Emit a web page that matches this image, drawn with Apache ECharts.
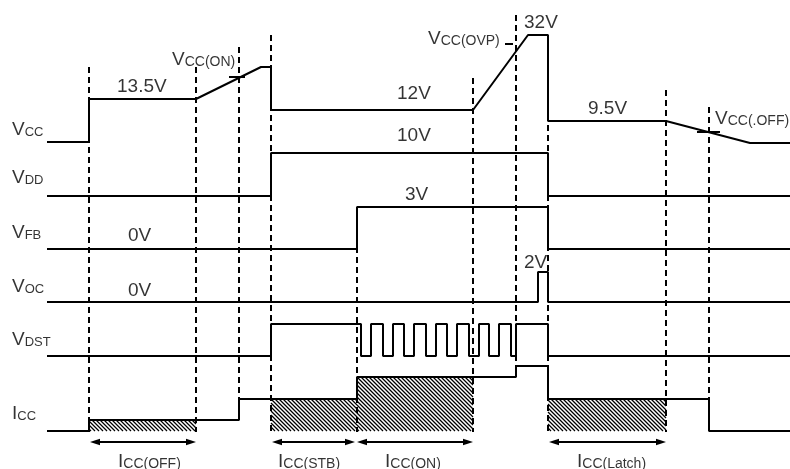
<!DOCTYPE html>
<html><head><meta charset="utf-8">
<script src="https://cdn.jsdelivr.net/npm/echarts@6/dist/echarts.min.js"></script>
<style>html,body{margin:0;padding:0;background:#fff}#c{width:790px;height:469px}</style>
</head><body><div id="c"></div>
<script>
// ---- data (time units on x, level units on y; y grows downward) ----
const vccWave = [[47,142],[89,142],[89,99],[196,99],[261,67],[271,67],[271,110],[473,110],[528,35],[548,35],[548,121],[666,121],[750,143],[790,143]];
const vddWave = [[47,196],[271,196],[271,153],[548,153],[548,196],[790,196]];
const vfbWave = [[47,249],[357,249],[357,207],[548,207],[548,249],[790,249]];
const vocWave = [[47,302],[538,302],[538,272],[548,272],[548,302],[790,302]];
const vdstRise = [271,371,393,414,436,457,479,499,516];
const vdstFall = [361,383,404,426,447,469,489,511,548];
const vdstLow = 356, vdstHigh = 324, vdstStart = 47, vdstEnd = 790;
const iccWave = [[47,431],[89,431],[89,420],[239,420],[239,399],[357,399],[357,377],[516,377],[516,366],[548,366],[548,399],[709,399],[709,431],[790,431]];

const markerT      = [89, 196, 239, 271, 357, 473, 516, 548, 666, 709];
const markerTop    = [67, 67,  47,  35,  207, 78,  15,  35,  90,  107];
const markerBottom = [432,432, 420, 432, 432, 432, 366, 432, 432, 431];

const thresholdTicks = [[229,245,77],[505,513,44],[697,720,132]];
const hatchRegions = [[89,196,420,431],[271,357,399,431],[357,473,377,431],[548,666,399,431]];
const currentSpans = [[90,196],[272,355],[357,473],[549,666]];
const spanLevel = 442;

const signalNames = [['V','CC'],['V','DD'],['V','FB'],['V','OC'],['V','DST'],['I','CC']];
const signalNameY = [129,177,232,286,339,413];
const signalNameX = 12;
const valueLabels = [['13.5V',117,86],['12V',397,93],['10V',397,135],['3V',405,194],['0V',128,235],['0V',128,290],['2V',524,262],['32V',524,22],['9.5V',588,108]];
const thresholdLabels = [[['V','CC(ON)'],172,59],[['V','CC(OVP)'],428,38],[['V','CC(.OFF)'],715,118]];
const currentLabels = [[['I','CC(OFF)'],118,461],[['I','CC(STB)'],278,461],[['I','CC(ON)'],385,461],[['I','CC(Latch)'],577,461]];

// ---- build ----
const vdstWave = [[vdstStart, vdstLow]];
vdstRise.forEach((r, i) => {
  vdstWave.push([r, vdstLow], [r, vdstHigh], [vdstFall[i], vdstHigh], [vdstFall[i], vdstLow]);
});
vdstWave.push([vdstEnd, vdstLow]);

const FONT = "'Liberation Sans', Arial, Helvetica, sans-serif";
function wave(name, data) {
  return {type:'line', name, data, symbol:'none', showSymbol:false, clip:false, silent:true,
    lineStyle:{color:'#000', width:2}, z:5, animation:false};
}
const labelItems = [];
signalNames.forEach((n, i) => labelItems.push({value:[signalNameX, signalNameY[i]], txt:'{m|' + n[0] + '}{t|' + n[1] + '}'}));
valueLabels.forEach(v => labelItems.push({value:[v[1], v[2]], txt:'{m|' + v[0] + '}'}));
thresholdLabels.concat(currentLabels).forEach(v => labelItems.push({value:[v[1], v[2]], txt:'{m|' + v[0][0] + '}{s|' + v[0][1] + '}'}));

const chart = echarts.init(document.getElementById('c'));
chart.setOption({
  backgroundColor:'#fff',
  animation:false,
  grid:{left:0, right:0, top:0, bottom:0, containLabel:false},
  xAxis:{type:'value', min:0, max:790, show:false},
  yAxis:{type:'value', min:0, max:469, inverse:true, show:false},
  series:[
    {type:'custom', name:'hatch', silent:true, clip:false, z:1, data:hatchRegions,
      renderItem:(params, api) => {
        const a = api.coord([api.value(0), api.value(2)]);
        const b = api.coord([api.value(1), api.value(3)]);
        const l = Math.min(a[0], b[0]), r = Math.max(a[0], b[0]);
        const t = Math.min(a[1], b[1]), bt = Math.max(a[1], b[1]);
        const step = 4, children = [];
        for (let k = Math.floor((t - r) / step) * step; k <= bt - l; k += step) {
          const xa = Math.max(l, t - k), xb = Math.min(r, bt - k);
          if (xb > xa) children.push({type:'line', shape:{x1:xa, y1:xa + k, x2:xb, y2:xb + k}, style:{stroke:'#000', lineWidth:1.3}});
        }
        return {type:'group', children};
      }},
    {type:'lines', coordinateSystem:'cartesian2d', silent:true, z:2, animation:false,
      data: markerT.map((t, i) => ({coords:[[t, markerTop[i]], [t, markerBottom[i]]]})),
      lineStyle:{color:'#000', width:2, type:[6,4], opacity:1}},
    {type:'lines', coordinateSystem:'cartesian2d', silent:true, z:6, animation:false,
      data: thresholdTicks.map(d => ({coords:[[d[0], d[2]], [d[1], d[2]]]})),
      lineStyle:{color:'#000', width:2, opacity:1}},
    wave('VCC', vccWave), wave('VDD', vddWave), wave('VFB', vfbWave),
    wave('VOC', vocWave), wave('VDST', vdstWave), wave('ICC', iccWave),
    {type:'custom', name:'spans', silent:true, clip:false, z:7,
      data: currentSpans.map(s => [s[0], s[1], spanLevel]),
      renderItem:(params, api) => {
        const a = api.coord([api.value(0), api.value(2)]);
        const b = api.coord([api.value(1), api.value(2)]);
        const L = 10, h = 3.2;
        return {type:'group', children:[
          {type:'line', shape:{x1:a[0] + 3, y1:a[1], x2:b[0] - 3, y2:b[1]}, style:{stroke:'#000', lineWidth:1.8}},
          {type:'polygon', shape:{points:[[a[0], a[1]], [a[0] + L, a[1] - h], [a[0] + L, a[1] + h]]}, style:{fill:'#000'}},
          {type:'polygon', shape:{points:[[b[0], b[1]], [b[0] - L, b[1] - h], [b[0] - L, b[1] + h]]}, style:{fill:'#000'}}
        ]};
      }},
    {type:'scatter', name:'labels', symbolSize:0, silent:true, z:10, animation:false, clip:false,
      data: labelItems,
      label:{show:true, position:'right', distance:0, color:'#000', fontFamily:FONT, fontSize:19,
        formatter: p => p.data.txt,
        rich:{
          m:{fontSize:19, fontFamily:FONT, color:'#000', verticalAlign:'bottom', lineHeight:20},
          s:{fontSize:14, fontFamily:FONT, color:'#000', verticalAlign:'bottom', lineHeight:17},
          t:{fontSize:13, fontFamily:FONT, color:'#000', verticalAlign:'bottom', lineHeight:16}
        }}}
  ]
});
</script></body></html>
